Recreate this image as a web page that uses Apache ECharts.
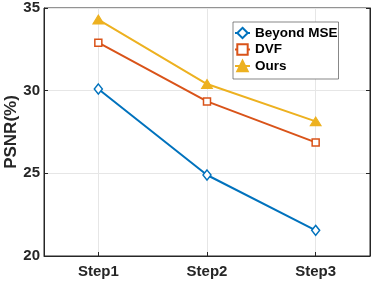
<!DOCTYPE html>
<html><head><meta charset="utf-8">
<script src="https://cdn.jsdelivr.net/npm/echarts@6/dist/echarts.min.js"></script>
<style>html,body{margin:0;padding:0;background:#fff}#c{width:374px;height:281px}</style>
</head><body><div id="c"></div>
<script>
const categories = ['Step1', 'Step2', 'Step3'];
const beyondMSE = [30.1, 24.9, 21.55];
const dvf = [32.9, 29.35, 26.87];
const ours = [34.3, 30.4, 28.14];
const yTicks = [20, 25, 30, 35];

const FONT = '"Liberation Sans", Arial, sans-serif';
const TXT = '#262626';
const chart = echarts.init(document.getElementById('c'), null, {renderer: 'canvas'});
chart.setOption({
  animation: false,
  textStyle: {fontFamily: FONT},
  grid: {left: 44, right: 4, top: 8, bottom: 25, containLabel: false, outerBoundsMode: 'none',
         show: true, borderColor: TXT, borderWidth: 1, backgroundColor: 'transparent'},
  xAxis: {
    type: 'category', data: categories, boundaryGap: true,
    axisLine: {show: true, lineStyle: {color: TXT, width: 1}},
    axisTick: {show: true, alignWithLabel: true, inside: true, length: 4, lineStyle: {color: TXT}},
    splitLine: {show: true, alignWithLabel: true, lineStyle: {color: '#e6e6e6', width: 1}},
    axisLabel: {color: TXT, fontWeight: 'bold', fontSize: 15, fontFamily: FONT, margin: 8}
  },
  yAxis: [{
    type: 'value', min: yTicks[0], max: yTicks[yTicks.length - 1], interval: 5,
    name: 'PSNR(%)', nameLocation: 'middle', nameGap: 24, nameRotate: 90, nameMoveOverlap: false,
    nameTextStyle: {color: TXT, fontWeight: 'bold', fontSize: 17, fontFamily: FONT},
    axisLine: {show: true, lineStyle: {color: TXT}},
    axisTick: {show: true, inside: true, length: 4, lineStyle: {color: TXT}},
    splitLine: {show: true, lineStyle: {color: '#e6e6e6', width: 1}},
    axisLabel: {color: TXT, fontWeight: 'bold', fontSize: 15, fontFamily: FONT, margin: 4}
  }, {
    type: 'value', min: yTicks[0], max: yTicks[yTicks.length - 1], interval: 5, position: 'right',
    axisLine: {show: true, lineStyle: {color: TXT}},
    axisTick: {show: true, inside: true, length: 4, lineStyle: {color: TXT}},
    splitLine: {show: false}, axisLabel: {show: false}
  }],
  legend: {
    orient: 'vertical', left: 233, top: 22, itemWidth: 15, itemHeight: 13, itemGap: 2.5,
    padding: [4, 1, 6, 1], borderColor: '#555', borderWidth: 0.7, backgroundColor: '#fff',
    textStyle: {color: '#000', fontWeight: 'bold', fontSize: 13.5, fontFamily: FONT},
    data: ['Beyond MSE', 'DVF', 'Ours']
  },
  series: [
    {name: 'Beyond MSE', type: 'line', data: beyondMSE, symbol: 'diamond', symbolSize: [8, 10],
     lineStyle: {color: '#0072BD', width: 2}, itemStyle: {color: '#fff', borderColor: '#0072BD', borderWidth: 1.5}, z: 3},
    {name: 'DVF', type: 'line', data: dvf, symbol: 'rect', symbolSize: 7,
     lineStyle: {color: '#D95319', width: 2}, itemStyle: {color: '#fff', borderColor: '#D95319', borderWidth: 1.5}, z: 4},
    {name: 'Ours', type: 'line', data: ours, symbol: 'triangle', symbolSize: [11, 9],
     lineStyle: {color: '#EDB120', width: 2}, itemStyle: {color: '#EDB120', borderColor: '#EDB120', borderWidth: 1}, z: 5}
  ]
});
</script></body></html>
